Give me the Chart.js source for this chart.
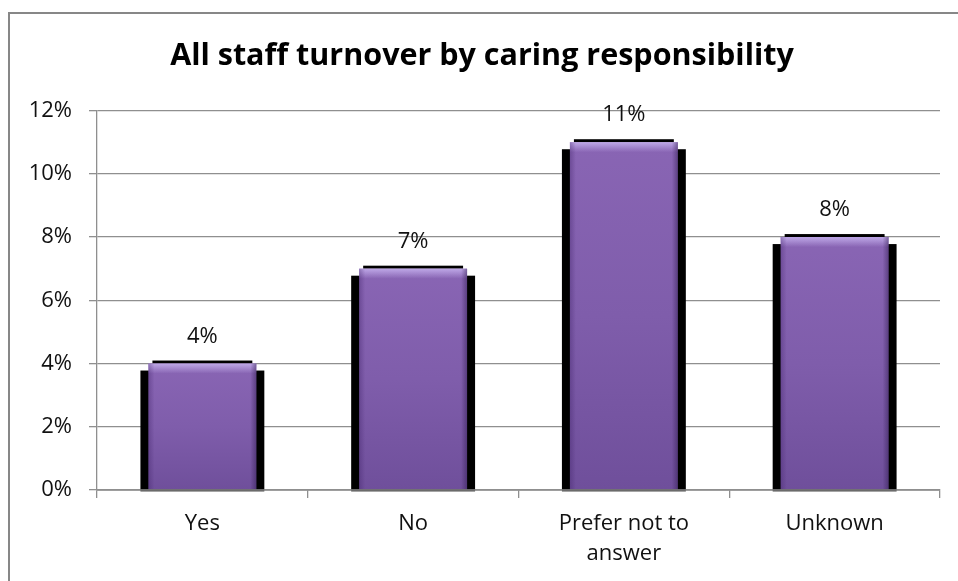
<!DOCTYPE html>
<html>
<head>
<meta charset="utf-8">
<script src="https://cdn.jsdelivr.net/npm/chart.js@4.4.1/dist/chart.umd.min.js"></script>
<style>
  html, body { margin: 0; padding: 0; background: #fff; }
  #wrap { position: relative; width: 958px; height: 581px; overflow: hidden; }
  #frame { position: absolute; left: 8px; top: 12px; width: 1200px; height: 900px;
           border: 2px solid #878787; box-sizing: border-box; pointer-events: none; }
  #chart { position: absolute; left: 0; top: 0; }
</style>
</head>
<body>
<div id="wrap">
  <canvas id="chart" width="958" height="581"></canvas>
  <div id="frame"></div>
</div>
<script>
const TITLE = 'All staff turnover by caring responsibility';
const categories = ['Yes', 'No', ['Prefer not to', 'answer'], 'Unknown'];
const turnover = [4, 7, 11, 8];   // percent
const Y_MIN = 0, Y_MAX = 12, Y_STEP = 2;

const FONT = '"Open Sans", "DejaVu Sans", sans-serif';
const GRID = '#8f8f8f';

// per-bar vertical fill, lighter at the top
function barFill(ctx) {
  const chart = ctx.chart;
  const ys = chart.scales.y;
  if (!ys || ctx.type !== 'data') return '#8061ac';
  const top = ys.getPixelForValue(ctx.raw);
  const base = ys.getPixelForValue(0);
  if (!isFinite(top) || !isFinite(base) || top === base) return '#8061ac';
  const g = chart.ctx.createLinearGradient(0, top, 0, base);
  g.addColorStop(0, '#8965b4');
  g.addColorStop(0.5, '#7f5dab');
  g.addColorStop(1, '#6f4f9b');
  return g;
}

// dark drop shadow behind each bar
const shadowPlugin = {
  id: 'barShadow',
  beforeDatasetsDraw(chart) {
    const c = chart.ctx;
    c.save();
    c.fillStyle = '#000';
    chart.getDatasetMeta(0).data.forEach(bar => {
      const half = bar.width / 2;
      c.fillRect(bar.x - half - 8, bar.y + 7, bar.width + 16, bar.base - bar.y - 5);
      c.fillRect(bar.x - half + 4, bar.y - 3, bar.width - 8, 3);
    });
    c.restore();
  }
};

// bevel highlight, axis line and value labels on top of the bars
const labelPlugin = {
  id: 'barLabels',
  afterDatasetsDraw(chart) {
    const c = chart.ctx;
    const meta = chart.getDatasetMeta(0);
    c.save();
    meta.data.forEach(bar => {
      const half = bar.width / 2;
      const l = bar.x - half, r = bar.x + half;
      let g = c.createLinearGradient(0, bar.y, 0, bar.y + 10);
      g.addColorStop(0, 'rgba(200,180,240,0.85)');
      g.addColorStop(1, 'rgba(200,180,240,0)');
      c.fillStyle = g;
      c.fillRect(l, bar.y, bar.width, 10);
      g = c.createLinearGradient(l, 0, l + 6, 0);
      g.addColorStop(0, 'rgba(60,30,100,0.35)');
      g.addColorStop(1, 'rgba(60,30,100,0)');
      c.fillStyle = g;
      c.fillRect(l, bar.y, 6, bar.base - bar.y);
      g = c.createLinearGradient(r - 6, 0, r, 0);
      g.addColorStop(0, 'rgba(40,20,70,0)');
      g.addColorStop(1, 'rgba(40,20,70,0.45)');
      c.fillStyle = g;
      c.fillRect(r - 6, bar.y, 6, bar.base - bar.y);
    });
    const y0 = chart.scales.y.getPixelForValue(0);
    c.strokeStyle = GRID;
    c.lineWidth = 1.3;
    c.beginPath();
    c.moveTo(chart.chartArea.left, y0);
    c.lineTo(chart.chartArea.right, y0);
    c.stroke();
    c.fillStyle = '#111';
    c.font = '22px ' + FONT;
    c.textAlign = 'center';
    c.textBaseline = 'alphabetic';
    meta.data.forEach((bar, i) => {
      c.fillText(turnover[i] + '%', bar.x, bar.y - 21);
    });
    c.restore();
  }
};

new Chart(document.getElementById('chart'), {
  type: 'bar',
  data: {
    labels: categories,
    datasets: [{
      data: turnover,
      backgroundColor: barFill,
      borderWidth: 0,
      barPercentage: 0.512,
      categoryPercentage: 1
    }]
  },
  plugins: [shadowPlugin, labelPlugin],
  options: {
    responsive: false,
    animation: false,
    layout: { padding: { left: 24, right: 18, top: 0, bottom: 0 } },
    plugins: {
      legend: { display: false },
      tooltip: { enabled: false },
      title: {
        display: true,
        text: TITLE,
        color: '#000',
        font: { family: FONT, size: 30.5, weight: 'bold', lineHeight: 1.2 },
        padding: { top: 38, bottom: 36 }
      }
    },
    scales: {
      x: {
        afterFit: s => { s.height = 91; },
        grid: { offset: true, drawOnChartArea: false, drawTicks: true, tickLength: 8, color: GRID, lineWidth: 1.3 },
        border: { display: true, color: GRID, width: 1.3 },
        ticks: { color: '#111', padding: 11, font: { family: FONT, size: 22, lineHeight: 1.36 } }
      },
      y: {
        min: Y_MIN, max: Y_MAX,
        afterFit: s => { s.width = 73; },
        grid: { color: GRID, lineWidth: 1.3, tickLength: 8 },
        border: { display: true, color: GRID, width: 1.3 },
        ticks: {
          stepSize: Y_STEP, padding: 17, color: '#111',
          font: { family: FONT, size: 22 },
          callback: v => v + '%'
        }
      }
    }
  }
});
</script>
</body>
</html>
